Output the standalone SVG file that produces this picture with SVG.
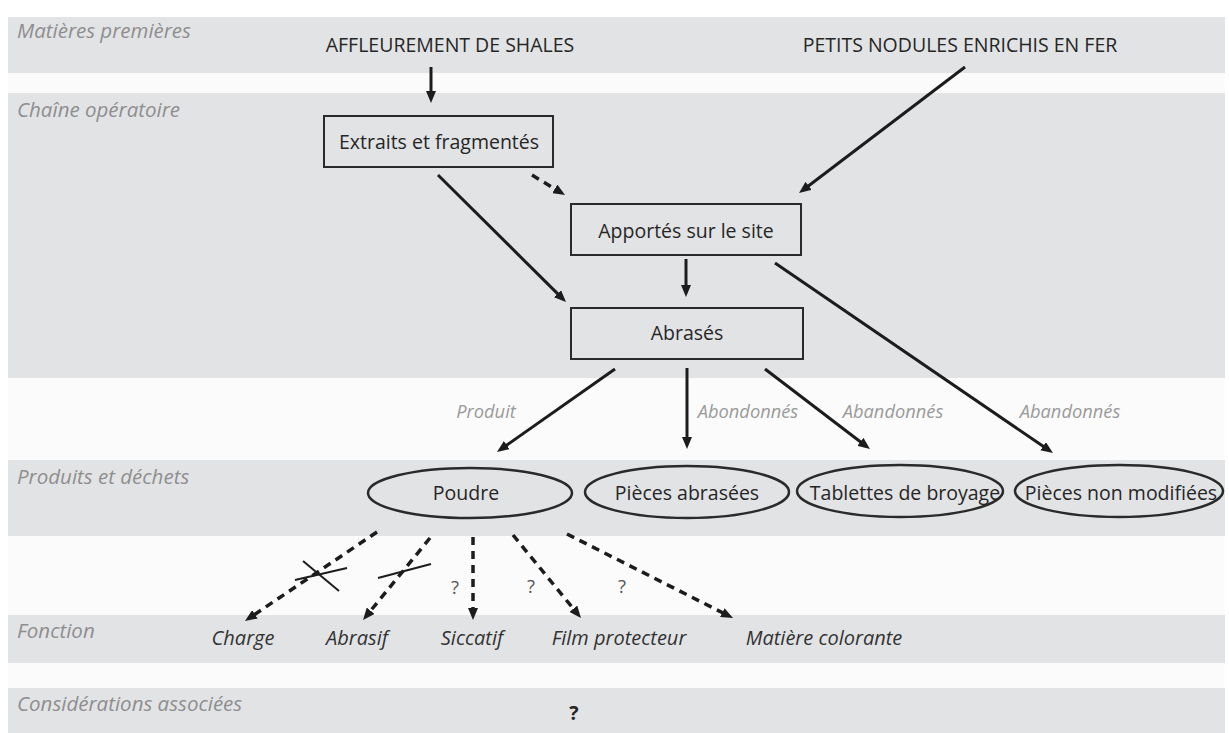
<svg xmlns="http://www.w3.org/2000/svg" width="1229" height="733" viewBox="0 0 1229 733">
<style>
.band{fill:#e2e3e5}
.gap{fill:#fbfbfb}
.cat{font-family:"Open Sans",sans-serif;font-style:italic;font-size:20.5px;fill:#8e8e8e}
.main{font-family:"Open Sans",sans-serif;font-size:19.5px;fill:#262626}
.lbl{font-family:"Open Sans",sans-serif;font-style:italic;font-size:18.3px;fill:#9a9a9a}
.fn{font-family:"Open Sans",sans-serif;font-style:italic;font-size:20px;fill:#333}
.q{font-family:"Open Sans",sans-serif;font-size:18.5px;fill:#555}
.box{fill:none;stroke:#2a2a2a;stroke-width:2}
.ell{fill:none;stroke:#2a2a2a;stroke-width:2.5}
.ar{fill:none;stroke:#1c1c1c;stroke-width:3;marker-end:url(#ah)}
.da{fill:none;stroke:#1c1c1c;stroke-width:3.5;stroke-dasharray:8 6;marker-end:url(#ah)}
.x{stroke:#1c1c1c;stroke-width:2}
</style>
<defs>
<marker id="ah" viewBox="0 0 12 10" refX="4" refY="5" markerWidth="12" markerHeight="10" markerUnits="userSpaceOnUse" orient="auto">
<path d="M0,0 L12,5 L0,10 z" fill="#1c1c1c"/>
</marker>
</defs>
<rect x="0" y="0" width="1229" height="733" fill="#ffffff"/>
<g id="bands">
<rect class="gap" x="8" y="73" width="1217" height="20"/>
<rect class="gap" x="8" y="378" width="1217" height="82"/>
<rect class="gap" x="8" y="536" width="1217" height="79"/>
<rect class="gap" x="8" y="663" width="1217" height="25"/>
<rect class="band" x="8" y="17" width="1217" height="56"/>
<rect class="band" x="8" y="93" width="1217" height="285"/>
<rect class="band" x="8" y="460" width="1217" height="76"/>
<rect class="band" x="8" y="615" width="1217" height="48"/>
<rect class="band" x="8" y="688" width="1217" height="45"/>
</g>
<g id="categories">
<text class="cat" x="17" y="38">Matières premières</text>
<text class="cat" x="17" y="117">Chaîne opératoire</text>
<text class="cat" x="17" y="484">Produits et déchets</text>
<text class="cat" x="17" y="638">Fonction</text>
<text class="cat" x="17" y="711">Considérations associées</text>
</g>
<g id="affleurement"><text class="main" x="450" y="52" text-anchor="middle">AFFLEUREMENT DE SHALES</text></g>
<g id="nodules"><text class="main" x="960" y="52" text-anchor="middle">PETITS NODULES ENRICHIS EN FER</text></g>
<g id="extraits">
<rect class="box" x="324" y="116" width="229" height="51"/>
<text class="main" x="439" y="149" text-anchor="middle">Extraits et fragmentés</text>
</g>
<g id="apportes">
<rect class="box" x="571" y="204" width="230" height="51"/>
<text class="main" x="686" y="238" text-anchor="middle">Apportés sur le site</text>
</g>
<g id="abrases">
<rect class="box" x="571" y="308" width="232" height="51"/>
<text class="main" x="687" y="340" text-anchor="middle">Abrasés</text>
</g>
<g id="poudre">
<ellipse class="ell" cx="470" cy="493" rx="102" ry="25"/>
<text class="main" x="466" y="500" text-anchor="middle">Poudre</text>
</g>
<g id="pieces-abrasees">
<ellipse class="ell" cx="687" cy="492" rx="102" ry="26"/>
<text class="main" x="687" y="500" text-anchor="middle">Pièces abrasées</text>
</g>
<g id="tablettes">
<ellipse class="ell" cx="900" cy="491" rx="103" ry="26"/>
<text class="main" x="905" y="500" text-anchor="middle">Tablettes de broyage</text>
</g>
<g id="pieces-non-modifiees">
<ellipse class="ell" cx="1119" cy="491" rx="104" ry="26"/>
<text class="main" x="1121" y="500" text-anchor="middle">Pièces non modifiées</text>
</g>
<g id="fonctions">
<text class="fn" x="243" y="645" text-anchor="middle">Charge</text>
<text class="fn" x="357" y="645" text-anchor="middle">Abrasif</text>
<text class="fn" x="472" y="645" text-anchor="middle">Siccatif</text>
<text class="fn" x="619" y="645" text-anchor="middle">Film protecteur</text>
<text class="fn" x="824" y="645" text-anchor="middle">Matière colorante</text>
</g>
<g id="considerations">
<text class="main" x="574" y="720" text-anchor="middle" font-weight="bold" font-size="21">?</text>
</g>
<g id="connectors">
<line class="ar" x1="431" y1="67" x2="431" y2="95"/>
<line class="ar" x1="965" y1="67" x2="805.4" y2="188.2"/>
<line class="da" x1="532" y1="175" x2="558.2" y2="190.9"/>
<line class="ar" x1="438" y1="175" x2="560.3" y2="296.4"/>
<line class="ar" x1="686" y1="259" x2="686" y2="289"/>
<line class="ar" x1="775" y1="263" x2="1046.4" y2="448.5"/>
<line class="ar" x1="615" y1="369" x2="503.5" y2="447.4"/>
<line class="ar" x1="687" y1="368" x2="687" y2="441"/>
<line class="ar" x1="765" y1="369" x2="863.6" y2="444.2"/>
<line class="da" x1="377" y1="532" x2="251.6" y2="616.5"/>
<line class="da" x1="430" y1="538" x2="368.1" y2="613.8"/>
<line class="da" x1="473" y1="537" x2="473" y2="612"/>
<line class="da" x1="513" y1="535" x2="575.9" y2="611.8"/>
<line class="da" x1="567" y1="534" x2="725.9" y2="614.4"/>
<line class="x" x1="295" y1="580" x2="347" y2="568"/>
<line class="x" x1="303" y1="561" x2="339" y2="591"/>
<line class="x" x1="378" y1="578" x2="431" y2="564"/>
</g>
<g id="labels">
<text class="lbl" x="486" y="418" text-anchor="middle">Produit</text>
<text class="lbl" x="748" y="418" text-anchor="middle">Abondonnés</text>
<text class="lbl" x="893" y="418" text-anchor="middle">Abandonnés</text>
<text class="lbl" x="1070" y="418" text-anchor="middle">Abandonnés</text>
<text class="q" x="455" y="594" text-anchor="middle">?</text>
<text class="q" x="531" y="593" text-anchor="middle">?</text>
<text class="q" x="622" y="593" text-anchor="middle">?</text>
</g>
</svg>
